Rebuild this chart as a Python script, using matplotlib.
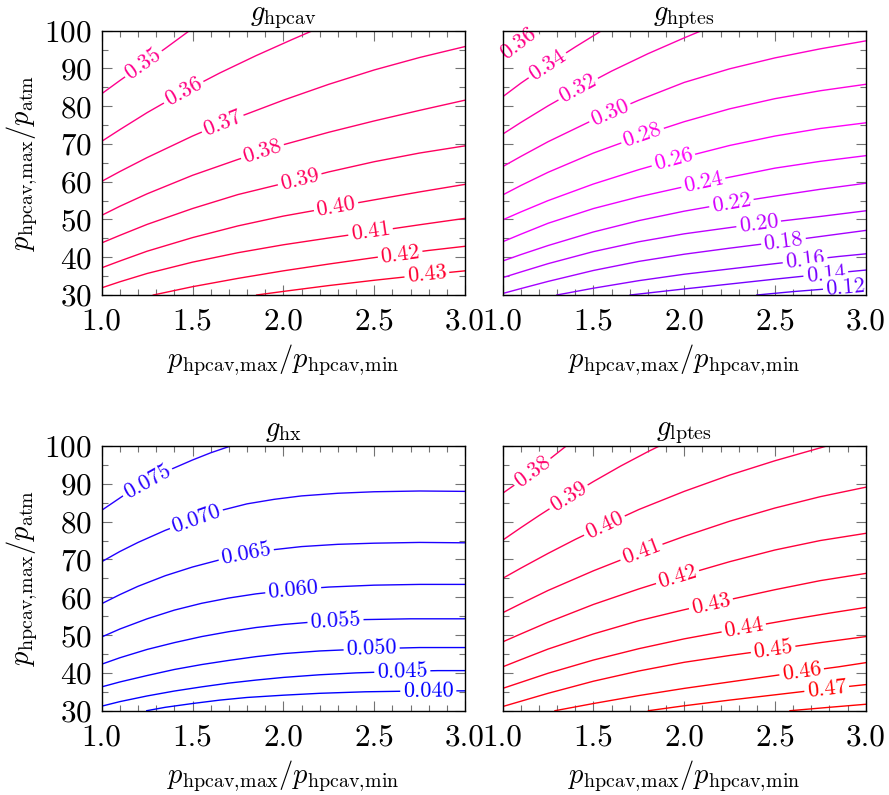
import numpy as np
import matplotlib
matplotlib.use("Agg")
import matplotlib.pyplot as plt
from matplotlib.colors import LinearSegmentedColormap, Normalize
from matplotlib.ticker import MultipleLocator, FormatStrFormatter

plt.rcParams['font.family'] = 'serif'
plt.rcParams['font.serif'] = ['cmr10']
plt.rcParams['mathtext.fontset'] = 'cm'
plt.rcParams['axes.formatter.use_mathtext'] = True

# contour lines: for each level a list of x and a list of y
# x = p_hpcav,max/p_hpcav,min , y = p_hpcav,max/p_atm
# *_lab = index of the point where the inline label sits

hpcav_levels = [0.35, 0.36, 0.37, 0.38, 0.39, 0.40, 0.41, 0.42, 0.43]
hpcav_x = [
    [1.0, 1.1, 1.23, 1.35, 1.483],
    [1.0, 1.1, 1.25, 1.45, 1.65, 1.85, 2.05, 2.18],
    [1.0, 1.1, 1.25, 1.5, 1.665, 2.0, 2.25, 2.5, 2.75, 3.0],
    [1.0, 1.1, 1.25, 1.5, 1.75, 1.885, 2.0, 2.25, 2.5, 2.75, 3.0],
    [1.0, 1.1, 1.25, 1.5, 1.75, 2.09, 2.25, 2.5, 2.75, 3.0],
    [1.0, 1.1, 1.25, 1.5, 1.75, 2.0, 2.29, 2.5, 2.75, 3.0],
    [1.0, 1.1, 1.25, 1.5, 1.75, 2.0, 2.25, 2.48, 2.75, 3.0],
    [1.284, 1.5, 1.75, 2.0, 2.25, 2.5, 2.643, 2.8, 3.0],
    [1.853, 2.0, 2.25, 2.5, 2.79, 3.0],
]
hpcav_y = [
    [83.3, 86.8, 91.2, 95.3, 100.0],
    [70.7, 73.8, 78.3, 83.8, 88.8, 93.4, 97.7, 100.4],
    [60.1, 62.7, 66.4, 72.1, 75.5, 81.6, 85.8, 89.6, 92.9, 95.8],
    [51.1, 53.5, 56.8, 61.7, 65.9, 68.0, 69.8, 73.1, 76.1, 78.9, 81.6],
    [43.8, 45.8, 48.7, 52.9, 56.6, 60.6, 62.6, 65.3, 67.6, 69.5],
    [37.2, 39.0, 41.6, 45.2, 48.3, 50.9, 53.4, 55.2, 57.3, 59.3],
    [31.9, 33.5, 35.7, 38.7, 41.2, 43.3, 45.1, 46.7, 48.6, 50.3],
    [30.0, 32.2, 34.4, 36.4, 38.2, 39.9, 40.8, 41.8, 42.9],
    [30.0, 30.95, 32.5, 33.9, 35.4, 36.4],
]
hpcav_lab = [2, 3, 4, 5, 5, 6, 7, 6, 4]

hptes_levels = [0.36, 0.34, 0.32, 0.30, 0.28, 0.26, 0.24, 0.22, 0.20, 0.18, 0.16, 0.14, 0.12]
hptes_x = [
    [1.0, 1.086, 1.18],
    [1.0, 1.1, 1.245, 1.4, 1.545],
    [1.0, 1.1, 1.25, 1.415, 1.6, 1.8, 2.0, 2.15],
    [1.0, 1.1, 1.25, 1.5, 1.59, 1.75, 2.0, 2.25, 2.5, 2.75, 3.0],
    [1.0, 1.1, 1.25, 1.5, 1.77, 2.0, 2.25, 2.5, 2.75, 3.0],
    [1.0, 1.1, 1.25, 1.5, 1.75, 1.94, 2.25, 2.5, 2.75, 3.0],
    [1.0, 1.1, 1.25, 1.5, 1.75, 2.105, 2.5, 2.75, 3.0],
    [1.0, 1.1, 1.25, 1.5, 1.75, 2.0, 2.26, 2.5, 2.75, 3.0],
    [1.0, 1.1, 1.25, 1.5, 1.75, 2.0, 2.41, 2.75, 3.0],
    [1.0, 1.1, 1.25, 1.5, 1.75, 2.0, 2.25, 2.547, 2.75, 3.0],
    [1.298, 1.5, 1.75, 2.0, 2.25, 2.5, 2.666, 2.85, 3.0],
    [1.702, 2.0, 2.25, 2.5, 2.78, 3.0],
    [2.4, 2.6, 2.888, 3.0],
]
hptes_y = [
    [93.4, 96.6, 100.0],
    [82.5, 86.1, 90.9, 95.7, 100.0],
    [72.6, 75.7, 80.1, 84.6, 89.3, 93.9, 98.1, 101.1],
    [64.0, 66.7, 70.6, 76.4, 78.3, 81.6, 86.3, 89.9, 92.8, 95.2, 97.3],
    [56.5, 59.0, 62.5, 67.6, 72.3, 75.9, 79.3, 82.0, 84.1, 85.8],
    [49.9, 52.0, 55.0, 59.4, 63.2, 65.8, 69.6, 72.1, 74.1, 75.6],
    [44.1, 46.1, 49.0, 52.9, 56.0, 59.8, 63.6, 65.4, 66.9],
    [39.0, 40.7, 43.1, 46.7, 49.7, 52.2, 54.4, 56.2, 58.0, 59.6],
    [34.6, 36.1, 38.3, 41.5, 44.1, 46.2, 48.9, 50.8, 52.3],
    [30.4, 31.7, 33.6, 36.5, 38.9, 40.8, 42.4, 44.2, 45.5, 47.1],
    [30.0, 31.8, 33.8, 35.5, 36.9, 38.3, 39.2, 40.2, 40.9],
    [30.0, 31.6, 32.9, 34.2, 35.6, 36.6],
    [30.0, 30.9, 32.0, 32.5],
]
hptes_lab = [1, 2, 3, 4, 4, 5, 5, 6, 6, 7, 6, 4, 2]

hx_levels = [0.075, 0.070, 0.065, 0.060, 0.055, 0.050, 0.045, 0.040]
hx_x = [
    [1.0, 1.12, 1.25, 1.38, 1.5, 1.6, 1.71],
    [1.0, 1.1, 1.2, 1.35, 1.52, 1.66, 1.8, 1.95, 2.1, 2.3, 2.5, 2.75, 3.0],
    [1.0, 1.1, 1.2, 1.35, 1.5, 1.65, 1.795, 1.95, 2.1, 2.3, 2.5, 2.75, 3.0],
    [1.0, 1.1, 1.25, 1.4, 1.55, 1.7, 1.85, 2.054, 2.25, 2.5, 2.75, 3.0],
    [1.0, 1.1, 1.25, 1.4, 1.55, 1.7, 1.85, 2.0, 2.15, 2.287, 2.45, 2.7, 3.0],
    [1.0, 1.1, 1.25, 1.4, 1.55, 1.7, 1.85, 2.0, 2.2, 2.486, 2.75, 3.0],
    [1.0, 1.1, 1.25, 1.4, 1.55, 1.7, 1.85, 2.0, 2.2, 2.4, 2.655, 2.85, 3.0],
    [1.248, 1.35, 1.5, 1.65, 1.8, 2.0, 2.2, 2.45, 2.798, 3.0],
]
hx_y = [
    [83.0, 86.9, 90.6, 93.8, 96.3, 98.2, 100.0],
    [69.4, 72.1, 74.5, 77.7, 80.8, 83.0, 84.7, 85.9, 86.8, 87.5, 87.9, 88.1, 88.0],
    [58.3, 60.7, 62.9, 65.7, 68.0, 69.9, 71.4, 72.6, 73.4, 74.0, 74.3, 74.5, 74.4],
    [49.5, 51.6, 54.3, 56.6, 58.4, 59.8, 60.9, 62.0, 62.7, 63.2, 63.4, 63.4],
    [42.3, 44.0, 46.2, 48.0, 49.6, 50.9, 52.0, 52.8, 53.4, 53.8, 54.1, 54.3, 54.3],
    [36.3, 37.6, 39.3, 40.9, 42.2, 43.3, 44.3, 45.1, 45.8, 46.4, 46.7, 46.7],
    [31.2, 32.4, 33.9, 35.2, 36.3, 37.3, 38.1, 38.8, 39.5, 40.0, 40.4, 40.6, 40.6],
    [30.0, 30.9, 31.9, 32.8, 33.5, 34.1, 34.6, 35.0, 35.25, 35.25],
]
hx_lab = [2, 4, 6, 7, 9, 9, 10, 8]

lptes_levels = [0.38, 0.39, 0.40, 0.41, 0.42, 0.43, 0.44, 0.45, 0.46, 0.47, 0.48]
lptes_x = [
    [1.0, 1.08, 1.165, 1.25, 1.35],
    [1.0, 1.1, 1.2, 1.362, 1.5, 1.65, 1.8, 1.876],
    [1.0, 1.1, 1.25, 1.4, 1.56, 1.75, 2.0, 2.25, 2.5, 2.8],
    [1.0, 1.1, 1.25, 1.5, 1.764, 2.0, 2.25, 2.5, 2.75, 3.0],
    [1.0, 1.1, 1.25, 1.5, 1.75, 1.963, 2.25, 2.5, 2.75, 3.0],
    [1.0, 1.1, 1.25, 1.5, 1.75, 2.0, 2.147, 2.5, 2.75, 3.0],
    [1.0, 1.1, 1.25, 1.5, 1.75, 2.0, 2.328, 2.6, 2.8, 3.0],
    [1.0, 1.1, 1.25, 1.5, 1.75, 2.0, 2.25, 2.49, 2.75, 3.0],
    [1.288, 1.5, 1.75, 2.0, 2.25, 2.5, 2.647, 2.85, 3.0],
    [1.803, 2.0, 2.25, 2.5, 2.785, 3.0],
    [2.583, 2.8, 3.0],
]
lptes_y = [
    [87.5, 90.2, 93.1, 96.2, 100.0],
    [75.1, 78.4, 81.6, 86.6, 90.6, 94.7, 98.5, 100.3],
    [65.0, 67.7, 71.6, 75.3, 79.0, 83.2, 88.0, 92.3, 96.1, 100.2],
    [55.9, 58.3, 61.8, 67.0, 72.0, 76.1, 80.1, 83.6, 86.6, 89.1],
    [48.2, 50.3, 53.4, 58.1, 62.2, 65.4, 69.4, 72.5, 75.0, 76.9],
    [41.6, 43.5, 46.3, 50.3, 53.8, 56.7, 58.3, 62.0, 64.4, 66.3],
    [35.9, 37.5, 39.9, 43.4, 46.4, 49.0, 51.9, 54.2, 55.8, 57.3],
    [31.1, 32.5, 34.6, 37.8, 40.5, 42.8, 44.6, 46.2, 48.0, 49.6],
    [30.0, 31.9, 34.0, 35.9, 37.6, 39.3, 40.3, 41.6, 42.7],
    [30.0, 31.3, 32.8, 34.2, 35.8, 36.9],
    [30.0, 30.9, 31.7],
]
lptes_lab = [2, 3, 4, 4, 5, 6, 6, 7, 6, 4, None]

# shared colour map (blue -> magenta -> red) over all panels
cmap = LinearSegmentedColormap.from_list('bmr', [(0, 0, 1), (1, 0, 1), (1, 0, 0)])
norm = Normalize(vmin=0.04, vmax=0.47)

W, H = 889, 795
fig = plt.figure(figsize=(W / 100, H / 100), dpi=100)


def px_axes(left, top, right, bottom):
    return fig.add_axes([left / W, 1 - bottom / H, (right - left) / W, (bottom - top) / H])


def draw_panel(ax, title, levels, xs, ys, labs, fmt, ylabel=True):
    ax.set_xlim(1.0, 3.0)
    ax.set_ylim(30, 100)
    ax.xaxis.set_major_locator(MultipleLocator(0.5))
    ax.xaxis.set_minor_locator(MultipleLocator(0.1))
    ax.yaxis.set_major_locator(MultipleLocator(10))
    ax.yaxis.set_minor_locator(MultipleLocator(5))
    ax.xaxis.set_major_formatter(FormatStrFormatter('%.1f'))
    ax.tick_params(which='both', direction='in', top=True, right=True,
                   color='0.45', width=0.8, labelsize=22.5)
    ax.tick_params(which='major', length=7, pad=7)
    ax.tick_params(which='minor', length=4.5)
    ax.tick_params(axis='x', which='major', pad=9)
    for sp in ax.spines.values():
        sp.set_linewidth(1.0)
    if not ylabel:
        ax.tick_params(labelleft=False)
    else:
        ax.set_ylabel(r'$p_{\mathrm{hpcav,\!max}}/p_{\mathrm{atm}}$', fontsize=20.5, labelpad=3)
    ax.set_xlabel(r'$p_{\mathrm{hpcav,\!max}}/p_{\mathrm{hpcav,\!min}}$', fontsize=20.5, labelpad=5)
    ax.set_title(title, fontsize=20.5, pad=7)

    for lev, x, y, k in zip(levels, xs, ys, labs):
        col = cmap(norm(lev))
        ax.plot(x, y, color=col, lw=1.0, zorder=2, solid_joinstyle='round')
        if k is None:
            continue
        p0 = ax.transData.transform((x[k - 1], y[k - 1]))
        p1 = ax.transData.transform((x[k + 1], y[k + 1]))
        ang = np.degrees(np.arctan2(p1[1] - p0[1], p1[0] - p0[0]))
        t = ax.text(x[k], y[k], fmt % lev,
                    color=col, fontsize=16, rotation=ang, rotation_mode='anchor',
                    ha='center', va='center', zorder=2.2,
                    bbox=dict(boxstyle='square,pad=0.12', fc='white', ec='none'))
        t.set_clip_path(ax.patch)


ax1 = px_axes(101.7, 30.7, 465, 295)
ax2 = px_axes(502.7, 30.7, 865.7, 295)
ax3 = px_axes(101.7, 446, 465, 710.7)
ax4 = px_axes(502.7, 446, 865.7, 710.7)

draw_panel(ax1, r'$g_{\mathrm{hpcav}}$', hpcav_levels, hpcav_x, hpcav_y, hpcav_lab, '%.2f')
draw_panel(ax2, r'$g_{\mathrm{hptes}}$', hptes_levels, hptes_x, hptes_y, hptes_lab, '%.2f', ylabel=False)
draw_panel(ax3, r'$g_{\mathrm{hx}}$', hx_levels, hx_x, hx_y, hx_lab, '%.3f')
draw_panel(ax4, r'$g_{\mathrm{lptes}}$', lptes_levels, lptes_x, lptes_y, lptes_lab, '%.2f', ylabel=False)

fig.savefig('out.png', dpi=100)
